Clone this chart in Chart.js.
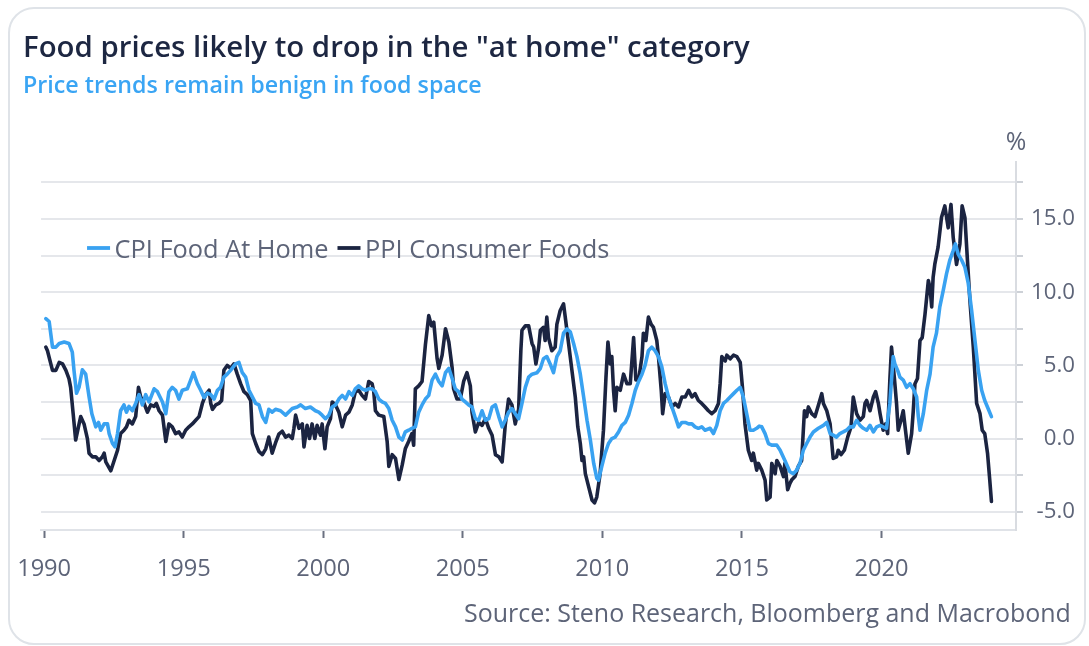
<!DOCTYPE html>
<html>
<head>
<meta charset="utf-8">
<script src="https://cdn.jsdelivr.net/npm/chart.js@4.4.1/dist/chart.umd.min.js"></script>
<style>
  html, body { margin:0; padding:0; background:#ffffff; width:1089px; height:646px; overflow:hidden; }
  #card { position:absolute; left:8px; top:7px; width:1078px; height:638px; box-sizing:border-box;
          border:2px solid #dfe3e8; border-radius:26px; }
  #chart { position:absolute; left:0; top:0; }
  .txt { position:absolute; white-space:nowrap; margin:0; padding:0; }
</style>
</head>
<body>
<div id="card"></div>
<canvas id="chart" width="1089" height="646"></canvas>
<div id="title" class="txt"></div>
<div id="subtitle" class="txt"></div>
<div id="source" class="txt"></div>
<script>
// ---------------- data ----------------
const titleText = 'Food prices likely to drop in the "at home" category';
const subtitleText = 'Price trends remain benign in food space';
const sourceText = 'Source: Steno Research, Bloomberg and Macrobond';
const unitText = '%';
const seriesLabels = ['CPI Food At Home', 'PPI Consumer Foods'];

const cpiDates = [
1990.06,1990.18,1990.30,1990.42,1990.54,1990.72,1990.89,1991.01,1991.07,1991.16,1991.25,1991.37,1991.49,1991.61,1991.71,1991.85,1991.95,
1992.03,1992.15,1992.27,1992.33,1992.45,1992.54,1992.63,1992.74,1992.86,1992.95,1993.04,1993.16,1993.28,1993.40,1993.52,1993.64,1993.76,1993.94,
1994.06,1994.24,1994.36,1994.47,1994.59,1994.71,1994.83,1994.95,1995.13,1995.25,1995.35,1995.49,1995.61,1995.73,1995.85,1995.97,
1996.09,1996.21,1996.32,1996.44,1996.56,1996.68,1996.86,1996.98,1997.10,1997.22,1997.34,1997.46,1997.58,1997.70,1997.82,1997.94,
1998.05,1998.17,1998.29,1998.47,1998.65,1998.89,1999.07,1999.19,1999.36,1999.54,1999.72,1999.84,1999.96,
2000.08,2000.20,2000.32,2000.44,2000.56,2000.68,2000.80,2000.92,2001.04,2001.15,2001.27,2001.39,2001.51,2001.63,2001.75,2001.87,2001.99,
2002.11,2002.23,2002.35,2002.47,2002.59,2002.71,2002.83,2002.94,2003.06,2003.18,2003.30,2003.42,2003.54,2003.66,2003.78,2003.90,
2004.02,2004.14,2004.26,2004.38,2004.50,2004.62,2004.73,2004.85,2004.97,2005.09,2005.21,2005.33,2005.45,2005.57,2005.69,2005.81,2005.93,
2006.05,2006.17,2006.29,2006.41,2006.52,2006.64,2006.76,2006.88,2007.00,2007.12,2007.24,2007.36,2007.48,2007.66,2007.78,2007.89,
2008.01,2008.13,2008.25,2008.37,2008.49,2008.61,2008.73,2008.85,2008.97,2009.09,2009.21,2009.33,2009.45,2009.57,2009.69,2009.80,2009.86,2009.98,
2010.10,2010.22,2010.34,2010.46,2010.58,2010.70,2010.82,2010.94,2011.06,2011.18,2011.30,2011.42,2011.53,2011.65,2011.77,2011.89,
2012.01,2012.13,2012.25,2012.37,2012.49,2012.61,2012.73,2012.85,2012.97,2013.09,2013.21,2013.32,2013.44,2013.56,2013.68,2013.86,2013.98,
2014.10,2014.22,2014.34,2014.46,2014.58,2014.70,2014.82,2014.94,2015.05,2015.17,2015.29,2015.41,2015.53,2015.62,2015.71,2015.83,2015.95,
2016.07,2016.25,2016.37,2016.54,2016.72,2016.84,2016.96,2017.08,2017.20,2017.32,2017.44,2017.56,2017.74,2017.92,
2018.04,2018.16,2018.27,2018.39,2018.51,2018.63,2018.75,2018.87,2018.99,2019.11,2019.23,2019.35,2019.47,2019.59,2019.71,2019.83,2019.95,
2020.06,2020.18,2020.30,2020.42,2020.48,2020.58,2020.66,2020.78,2020.90,2021.02,2021.14,2021.26,2021.32,2021.38,2021.50,2021.62,2021.74,2021.85,2021.97,
2022.09,2022.21,2022.33,2022.45,2022.57,2022.65,2022.75,2022.87,2022.99,2023.11,2023.23,2023.35,2023.47,2023.59,2023.70,2023.82,2023.94
];
const cpiValues = [
8.2,8.0,6.25,6.25,6.5,6.6,6.5,5.9,4.66,3.1,3.5,4.7,4.4,2.85,1.7,0.8,1.1,
0.57,1.0,1.0,0.34,-0.34,-0.57,0.34,1.9,2.3,1.8,2.2,1.9,2.4,3.0,2.3,3.0,2.5,3.4,
3.2,2.5,1.7,3.2,3.5,3.3,2.7,3.3,3.4,4.0,4.5,3.75,3.3,2.8,3.1,3.0,
2.7,3.3,3.5,4.2,4.4,4.66,5.1,5.2,4.5,4.2,3.3,2.85,2.4,2.3,1.5,1.1,
2.0,1.8,2.0,1.9,1.6,2.05,2.16,2.3,2.05,2.16,1.9,1.8,1.6,
1.36,1.6,2.16,2.3,2.7,2.95,2.7,3.2,2.95,3.4,3.6,3.4,3.3,3.4,3.4,3.2,2.7,
2.5,2.4,2.05,1.25,0.8,0.1,-0.1,0.45,0.57,0.7,0.8,1.8,2.3,2.7,2.95,4.0,
4.4,3.9,3.6,4.5,4.8,4.1,3.4,3.2,2.7,2.5,2.3,2.16,1.36,1.25,1.9,1.25,1.36,
2.16,2.3,1.5,0.8,1.25,1.8,2.05,1.7,1.36,2.4,3.5,4.2,4.4,4.5,4.8,5.45,
5.6,5.1,4.5,5.6,6.0,7.2,7.5,7.3,6.5,5.6,4.4,2.84,1.25,-0.1,-1.7,-2.7,-2.85,-1.9,
-1.0,-0.34,0.0,0.1,0.45,0.9,1.1,1.6,2.4,3.3,3.9,4.4,5.0,6.0,6.25,6.0,
5.6,4.9,3.75,2.84,2.16,1.5,0.8,1.1,1.1,1.0,1.0,0.8,0.7,0.8,0.57,0.7,0.34,
0.9,1.9,2.4,2.6,2.84,3.07,3.3,3.5,2.84,1.7,0.57,0.57,0.7,0.85,0.8,0.34,-0.34,
-0.45,-0.45,-0.8,-1.5,-2.27,-2.4,-2.16,-1.7,-0.8,-0.34,0.1,0.45,0.7,0.9,
1.1,0.34,0.23,0.1,0.34,0.45,0.57,0.8,0.8,1.25,0.9,0.7,0.57,0.9,0.45,0.8,0.9,
0.8,0.7,2.4,5.6,5.1,4.66,4.2,4.0,3.5,3.75,3.4,2.84,1.5,0.57,1.7,3.3,4.4,6.25,7.2,
9.0,10.1,11.25,12.2,12.84,13.3,12.6,12.2,11.7,10.6,8.75,6.7,4.66,3.3,2.6,2.05,1.5
];

const ppiDates = [
1990.06,1990.12,1990.24,1990.30,1990.42,1990.54,1990.66,1990.78,1990.89,1990.95,1991.04,1991.13,1991.23,1991.31,1991.43,1991.55,1991.61,1991.73,1991.85,1991.97,
1992.09,1992.15,1992.21,1992.33,1992.39,1992.51,1992.63,1992.74,1992.86,1992.95,1993.04,1993.16,1993.28,1993.38,1993.46,1993.58,1993.70,1993.82,1993.94,
1994.02,1994.12,1994.24,1994.36,1994.47,1994.59,1994.71,1994.83,1994.95,1995.07,1995.19,1995.31,1995.43,1995.55,1995.67,1995.79,1995.91,1995.97,
1996.03,1996.15,1996.26,1996.36,1996.44,1996.56,1996.68,1996.80,1996.92,1997.04,1997.16,1997.28,1997.40,1997.46,1997.58,1997.70,1997.82,1997.94,
1998.05,1998.17,1998.29,1998.41,1998.53,1998.65,1998.77,1998.89,1998.95,1999.01,1999.13,1999.25,1999.31,1999.42,1999.51,1999.60,1999.70,1999.78,1999.90,1999.96,
2000.06,2000.14,2000.26,2000.32,2000.44,2000.56,2000.68,2000.80,2000.92,2001.04,2001.15,2001.27,2001.39,2001.51,2001.63,2001.75,2001.81,2001.87,2001.99,
2002.17,2002.29,2002.35,2002.47,2002.59,2002.71,2002.83,2002.94,2003.06,2003.18,2003.24,2003.30,2003.42,2003.54,2003.66,2003.78,2003.88,2003.96,
2004.08,2004.14,2004.26,2004.38,2004.50,2004.62,2004.67,2004.79,2004.91,2005.03,2005.15,2005.27,2005.33,2005.45,2005.57,2005.69,2005.81,2005.93,
2006.05,2006.17,2006.29,2006.41,2006.52,2006.64,2006.76,2006.88,2007.00,2007.08,2007.12,2007.24,2007.36,2007.48,2007.54,2007.62,2007.72,2007.78,2007.89,2007.95,
2008.01,2008.07,2008.19,2008.31,2008.37,2008.49,2008.61,2008.67,2008.79,2008.91,2009.03,2009.12,2009.21,2009.27,2009.33,2009.39,2009.51,2009.63,2009.72,2009.80,2009.92,
2010.04,2010.13,2010.20,2010.28,2010.34,2010.40,2010.46,2010.52,2010.64,2010.76,2010.88,2011.00,2011.12,2011.20,2011.30,2011.42,2011.47,2011.56,2011.65,2011.75,2011.83,2011.95,
2012.01,2012.11,2012.16,2012.25,2012.37,2012.49,2012.61,2012.73,2012.85,2012.97,2013.09,2013.21,2013.32,2013.44,2013.56,2013.68,2013.80,2013.92,
2014.04,2014.16,2014.22,2014.28,2014.40,2014.46,2014.58,2014.70,2014.82,2014.94,2015.02,2015.11,2015.23,2015.35,2015.41,2015.53,2015.59,2015.71,2015.83,2015.89,
2016.01,2016.07,2016.19,2016.25,2016.37,2016.49,2016.54,2016.64,2016.72,2016.78,2016.90,2017.02,2017.14,2017.24,2017.32,2017.38,2017.50,2017.62,2017.74,2017.86,2017.92,
2018.04,2018.16,2018.27,2018.39,2018.45,2018.55,2018.67,2018.79,2018.91,2018.99,2019.11,2019.23,2019.35,2019.41,2019.47,2019.59,2019.71,2019.79,2019.89,2019.95,
2020.06,2020.15,2020.22,2020.30,2020.36,2020.46,2020.54,2020.60,2020.70,2020.78,2020.86,2020.96,2021.08,2021.14,2021.20,2021.29,2021.38,2021.46,2021.56,2021.68,2021.74,2021.80,2021.85,2021.91,
2022.03,2022.15,2022.27,2022.39,2022.49,2022.57,2022.69,2022.81,2022.89,2022.99,2023.08,2023.17,2023.29,2023.41,2023.53,2023.61,2023.70,2023.80,2023.88,2023.94
];
const ppiValues = [
6.25,6.0,5.1,4.66,4.66,5.2,5.1,4.66,4.1,3.5,1.7,-0.1,0.8,1.5,1.0,0.0,-1.0,-1.25,-1.25,-1.5,
-1.25,-1.0,-1.6,-2.0,-2.2,-1.5,-0.8,0.34,0.57,0.8,1.25,1.0,1.5,3.5,2.85,2.4,1.8,2.3,2.2,
2.4,1.9,1.6,-0.2,1.0,0.8,0.34,0.45,0.1,0.57,0.8,1.0,1.25,1.5,2.4,3.0,3.3,2.4,
2.0,2.3,2.4,2.6,4.66,5.0,4.8,5.1,4.4,3.75,3.2,3.0,2.6,0.34,-0.34,-0.9,-1.1,-0.7,
0.1,-1.0,-0.3,0.3,0.5,0.1,0.23,0.0,0.7,1.6,0.7,1.0,-0.57,0.9,0.0,1.0,0.0,0.9,0.23,1.0,
-0.7,0.8,1.36,2.5,2.3,1.8,0.8,1.6,1.8,2.3,3.2,3.3,2.95,2.7,3.9,3.75,3.2,1.9,1.6,
1.5,-0.2,-1.9,-1.1,-1.36,-2.8,-1.8,-0.7,-0.2,0.34,-0.45,3.4,3.6,3.9,6.4,8.4,7.7,7.95,
5.45,4.8,5.7,7.5,6.6,4.8,3.4,2.7,2.7,3.9,4.5,3.6,1.8,0.45,1.1,0.9,1.36,0.7,
0.23,-1.1,-1.25,-1.6,0.9,2.7,2.3,1.0,2.0,6.0,7.4,7.7,7.7,6.5,6.25,5.1,6.25,7.4,7.6,6.7,
8.3,6.9,6.0,6.25,7.8,8.75,9.2,8.3,6.5,4.66,2.84,0.8,-0.34,-1.5,-1.25,-2.4,-3.3,-4.2,-4.4,-4.0,-2.4,
0.57,4.2,6.6,5.1,5.6,3.3,1.9,3.5,3.3,4.4,3.75,3.75,6.9,4.0,4.0,5.6,7.2,6.7,8.3,7.8,7.6,6.7,
5.6,3.3,1.7,3.07,2.84,2.16,2.4,2.16,2.84,2.84,3.3,2.84,3.07,2.6,2.4,2.16,1.9,1.7,
1.9,2.4,3.75,5.6,5.3,5.7,5.45,5.7,5.6,5.2,3.5,1.0,-0.8,-1.5,-1.0,-2.16,-1.7,-2.16,-2.84,-4.2,
-4.0,-1.7,-2.4,-1.5,-1.9,-2.6,-1.7,-3.5,-3.07,-2.84,-2.6,-1.9,-1.5,1.9,1.5,2.16,1.7,1.5,2.27,3.07,2.4,
1.9,1.0,-1.36,-1.25,-0.8,-1.1,-0.8,0.1,0.8,2.84,1.7,1.25,1.5,2.4,2.6,1.9,2.84,3.2,2.4,1.7,
0.57,1.0,0.34,4.0,6.25,4.2,2.4,0.57,1.25,1.9,0.57,-1.0,0.34,1.9,3.75,4.1,6.7,6.9,8.5,10.8,10.3,9.0,11.0,11.9,
13.1,15.1,15.9,14.4,16.0,13.75,11.9,13.3,15.9,15.1,12.2,9.4,6.25,2.4,1.7,0.57,0.34,-1.0,-2.84,-4.3
];

// ---------------- styling ----------------
const FAMILY = '"Open Sans", "Noto Sans", "DejaVu Sans", sans-serif';
const COL_CPI = '#39a2f1';
const COL_PPI = '#1b2441';
const COL_TEXT = '#5d6478';

const mctx = document.createElement('canvas').getContext('2d');
function fitSize(text, weight, targetWidth) {
  mctx.font = weight + ' 100px ' + FAMILY;
  return 100 * targetWidth / mctx.measureText(text).width;
}
function fontMetrics(size, weight) {
  mctx.font = weight + ' ' + size + 'px ' + FAMILY;
  const m = mctx.measureText('Hg');
  return { asc: m.fontBoundingBoxAscent, desc: m.fontBoundingBoxDescent };
}
function placeText(id, text, weight, color, left, baseline, width, alignRight) {
  const el = document.getElementById(id);
  const size = fitSize(text, weight, width);
  const fm = fontMetrics(size, weight);
  el.textContent = text;
  el.style.font = weight + ' ' + size + 'px ' + FAMILY;
  el.style.lineHeight = (fm.asc + fm.desc) + 'px';
  el.style.color = color;
  el.style.top = (baseline - fm.asc) + 'px';
  el.style.left = (alignRight ? left - width : left) + 'px';
}

placeText('title', titleText, 600, '#1d2742', 23, 57, 727, false);
placeText('subtitle', subtitleText, 600, '#3aa5f4', 23, 93, 459, false);
placeText('source', sourceText, 400, COL_TEXT, 1071, 622, 607, true);

const xTickSize = fitSize('1990', 400, 54);
const yTickSize = fitSize('15.0', 400, 44);
const legendSize = fitSize(seriesLabels[0], 400, 214);
const unitSize = yTickSize * 1.12;

const overlay = {
  id: 'overlay',
  afterDraw(chart) {
    const ctx = chart.ctx;
    const area = chart.chartArea;
    ctx.save();
    // inline legend
    ctx.font = '400 ' + legendSize + 'px ' + FAMILY;
    ctx.textBaseline = 'alphabetic';
    ctx.textAlign = 'left';
    let x = area.left + 46;
    const lineY = area.top + 86;
    const baseY = area.top + 96;
    chart.data.datasets.forEach(ds => {
      ctx.strokeStyle = ds.borderColor;
      ctx.lineWidth = 3.8;
      ctx.beginPath();
      ctx.moveTo(x, lineY);
      ctx.lineTo(x + 23, lineY);
      ctx.stroke();
      x += 27.5;
      ctx.fillStyle = COL_TEXT;
      ctx.fillText(ds.label, x, baseY);
      x += ctx.measureText(ds.label).width + 9;
    });
    // unit label above the value axis
    ctx.font = '400 ' + unitSize + 'px ' + FAMILY;
    ctx.textAlign = 'center';
    ctx.fillStyle = COL_TEXT;
    ctx.fillText(unitText, chart.scales.y.left, area.top - 12);
    ctx.restore();
  }
};

new Chart(document.getElementById('chart'), {
  type: 'line',
  data: {
    datasets: [
      { label: seriesLabels[0], data: cpiDates.map((d, i) => ({ x: d, y: cpiValues[i] })),
        borderColor: COL_CPI, backgroundColor: COL_CPI, borderWidth: 3.6, pointRadius: 0, tension: 0, fill: false,
        borderJoinStyle: 'round', borderCapStyle: 'round' },
      { label: seriesLabels[1], data: ppiDates.map((d, i) => ({ x: d, y: ppiValues[i] })),
        borderColor: COL_PPI, backgroundColor: COL_PPI, borderWidth: 3.6, pointRadius: 0, tension: 0, fill: false,
        borderJoinStyle: 'round', borderCapStyle: 'round' }
    ]
  },
  options: {
    responsive: false,
    animation: false,
    devicePixelRatio: 1,
    layout: { padding: { left: 40, top: 162, right: 14, bottom: 0 } },
    plugins: { legend: { display: false }, tooltip: { enabled: false }, title: { display: false } },
    scales: {
      x: {
        type: 'linear', min: 1989.89, max: 2024.82,
        ticks: { stepSize: 5, includeBounds: false, autoSkip: false, maxRotation: 0, minRotation: 0,
                 padding: 17, color: COL_TEXT, font: { family: FAMILY, size: xTickSize },
                 callback: v => String(Math.round(v)) },
        grid: { drawOnChartArea: false, drawTicks: true, tickLength: 8, tickColor: '#6a7080', tickWidth: 2 },
        border: { display: true, color: '#e0e3e8', width: 2 },
        afterFit: s => { s.height = 116; }
      },
      y: {
        position: 'right', min: -6.25, max: 18.9,
        ticks: { stepSize: 2.5, includeBounds: false, crossAlign: 'far', padding: 8, color: COL_TEXT,
                 font: { family: FAMILY, size: yTickSize },
                 callback: v => (Math.abs(v % 5) < 1e-6 ? v.toFixed(1) : '') },
        grid: { color: '#e5e7eb', lineWidth: 2, drawTicks: true, tickLength: 7, tickColor: '#cdd1d7', tickWidth: 2 },
        border: { display: true, color: '#d9dce1', width: 2 },
        afterFit: s => { s.width = 59; }
      }
    }
  },
  plugins: [overlay]
});
</script>
</body>
</html>
